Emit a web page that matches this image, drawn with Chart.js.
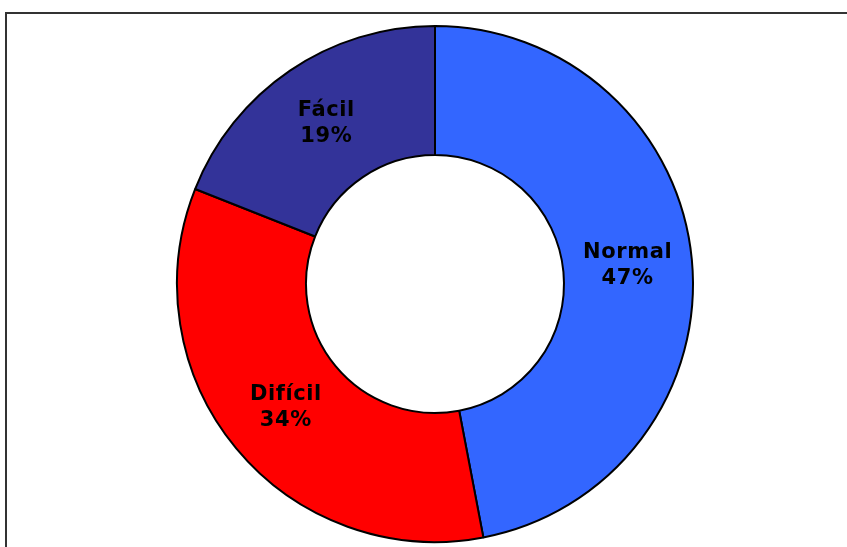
<!DOCTYPE html>
<html>
<head>
<meta charset="utf-8">
<script src="https://cdn.jsdelivr.net/npm/chart.js@4/dist/chart.umd.min.js"></script>
<style>
  html, body { margin: 0; padding: 0; background: #fff; overflow: hidden; }
  #wrap { position: relative; width: 847px; height: 547px; }
  #frame { position: absolute; left: 5px; top: 12px; width: 900px; height: 600px;
           border-left: 2px solid #333; border-top: 2px solid #333; }
  canvas { position: absolute; left: 0; top: 0; }
</style>
</head>
<body>
<div id="wrap">
  <div id="frame"></div>
  <canvas id="chart" width="847" height="547"></canvas>
</div>
<script>
// difficulty split
const categories = ['Normal', 'Difícil', 'Fácil'];
const shares = [47, 34, 19];
const sliceColors = ['#3366FF', '#FF0000', '#333399'];

// draws "Name\nNN%" in the middle of each ring slice
const sliceLabels = {
    id: 'sliceLabels',
    afterDatasetsDraw(chart) {
        const ctx = chart.ctx;
        const meta = chart.getDatasetMeta(0);
        ctx.save();
        ctx.font = 'bold 21px "DejaVu Sans"';
        ctx.letterSpacing = '0.6px';
        ctx.fillStyle = '#000';
        ctx.textAlign = 'center';
        ctx.textBaseline = 'middle';
        meta.data.forEach((arc, i) => {
            const p = arc.getCenterPoint();
            ctx.fillText(categories[i], p.x, p.y - 13);
            ctx.fillText(shares[i] + '%', p.x, p.y + 13);
        });
        ctx.restore();
    }
};

new Chart(document.getElementById('chart'), {
    type: 'doughnut',
    data: {
        labels: categories,
        datasets: [{
            data: shares,
            backgroundColor: sliceColors,
            borderColor: '#000',
            borderWidth: 2
        }]
    },
    options: {
        responsive: false,
        animation: false,
        cutout: '50%',
        layout: { padding: { top: 24, bottom: 3, left: 176, right: 153 } },
        plugins: {
            legend: { display: false },
            tooltip: { enabled: false }
        }
    },
    plugins: [sliceLabels]
});
</script>
</body>
</html>
